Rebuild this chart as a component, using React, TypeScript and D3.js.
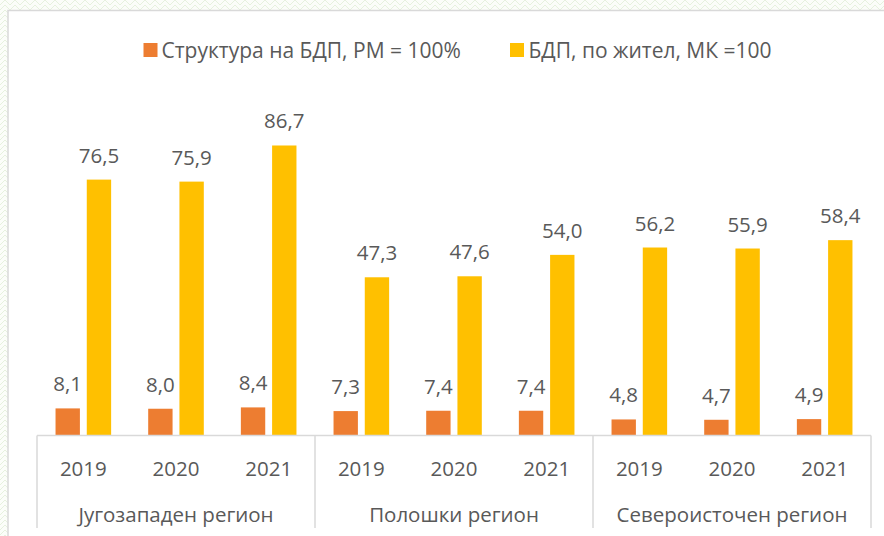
import React from "react";
import * as d3 from "d3";

const regions = ["Југозападен регион", "Полошки регион", "Североисточен регион"];
const years = ["2019", "2020", "2021"];
const seriesNames = ["Структура на БДП, РМ = 100%", "БДП, по жител, МК =100"];
const structureValues = [8.1, 8.0, 8.4, 7.3, 7.4, 7.4, 4.8, 4.7, 4.9];
const perCapitaValues = [76.5, 75.9, 86.7, 47.3, 47.6, 54.0, 56.2, 55.9, 58.4];
const colors = ["#ED7D31", "#FFC000"];

const W = 884;
const H = 536;
const FONT = "'Open Sans', 'Noto Sans', sans-serif";
const TEXT = "#595959";
const AXIS = "#d9d9d9";

export default function App() {
  const cats = regions.flatMap((r, ri) => years.map((y, yi) => ({ region: r, ri, year: y, i: ri * 3 + yi })));
  const left = 37;
  const right = 871;
  const base = 435.5;
  const x0 = d3.scaleBand<number>().domain(cats.map((c) => c.i)).range([left, right]).padding(0);
  const bw = x0.bandwidth();
  const x1 = d3
    .scaleBand<number>()
    .domain([0, 1])
    .range([bw * 0.2, bw * 0.8])
    .paddingInner(0.22);
  const y = d3.scaleLinear().domain([0, 100]).range([base, 101]);
  const series = [structureValues, perCapitaValues];
  const fmt = (v: number) => v.toFixed(1).replace(".", ",");
  const regionScale = d3.scaleBand<number>().domain([0, 1, 2]).range([left, right]);

  return (
    <svg width={W} height={H} style={{ position: "absolute", left: 0, top: 0 }}>
      <defs>
        <pattern id="bg" width="10" height="10" patternUnits="userSpaceOnUse">
          <rect width="10" height="10" fill="#fbfdf9" />
          <path d="M0 5 L5 0 L10 5 M0 10 L5 5 L10 10" fill="none" stroke="#e6f1de" strokeWidth="1" />
        </pattern>
      </defs>
      <rect width={W} height={H} fill="url(#bg)" />
      <rect x={8} y={10.5} width={W} height={H} fill="#ffffff" stroke={AXIS} strokeWidth={1.5} />

      {/* legend */}
      <g fontFamily={FONT} fontSize={21} fill={TEXT}>
        <rect x={143.5} y={43} width={14} height={14} fill={colors[0]} />
        <text x={161.5} y={50} dominantBaseline="central">{seriesNames[0]}</text>
        <rect x={510} y={43} width={14} height={14} fill={colors[1]} />
        <text x={528.5} y={50} dominantBaseline="central">{seriesNames[1]}</text>
      </g>

      {/* bars */}
      {series.map((vals, si) =>
        vals.map((v, i) => {
          const bx = (x0(i) ?? 0) + (x1(si) ?? 0);
          return (
            <g key={`${si}-${i}`}>
              <rect x={bx} y={y(v)} width={x1.bandwidth()} height={base - y(v)} fill={colors[si]} />
              <text
                x={bx + x1.bandwidth() / 2}
                y={y(v) - 25}
                textAnchor="middle"
                dominantBaseline="central"
                fontFamily={FONT}
                fontSize={20.5}
                fill={TEXT}
              >
                {fmt(v)}
              </text>
            </g>
          );
        })
      )}

      {/* axis */}
      <line x1={left} x2={right} y1={base} y2={base} stroke={AXIS} strokeWidth={1.5} />
      {[0, 1, 2, 3].map((k) => {
        const xx = k < 3 ? regionScale(k) ?? 0 : right;
        return <line key={k} x1={xx} x2={xx} y1={base} y2={528} stroke={AXIS} strokeWidth={1.5} />;
      })}
      {cats.map((c) => (
        <text
          key={c.i}
          x={(x0(c.i) ?? 0) + bw / 2}
          y={467.5}
          textAnchor="middle"
          dominantBaseline="central"
          fontFamily={FONT}
          fontSize={20.5}
          fill={TEXT}
        >
          {c.year}
        </text>
      ))}
      {regions.map((r, ri) => (
        <text
          key={r}
          x={(regionScale(ri) ?? 0) + regionScale.bandwidth() / 2}
          y={513.5}
          textAnchor="middle"
          dominantBaseline="central"
          fontFamily={FONT}
          fontSize={20.5}
          fill={TEXT}
        >
          {r}
        </text>
      ))}
    </svg>
  );
}
